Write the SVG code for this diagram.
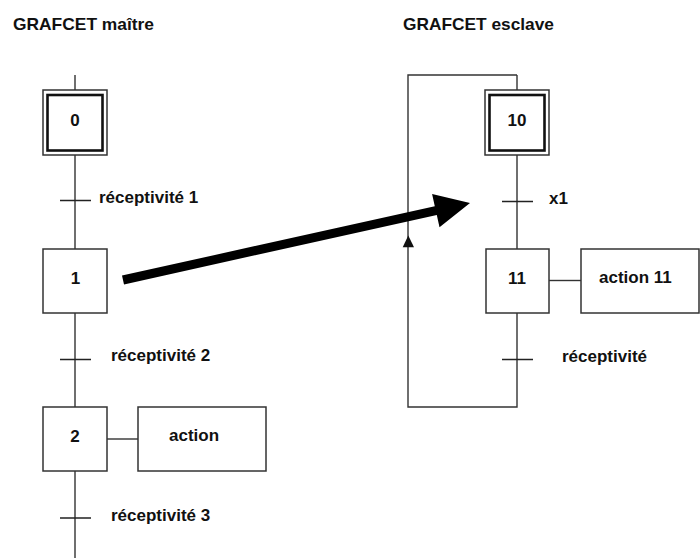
<svg xmlns="http://www.w3.org/2000/svg" width="700" height="558" viewBox="0 0 700 558">
<style>
text{font-family:"Liberation Sans",Arial,sans-serif;font-weight:bold;font-size:17px;fill:#111}
.c{text-anchor:middle}
.box{fill:#fff;stroke:#333;stroke-width:1.5}
.inner{fill:none;stroke:#111;stroke-width:2.6}
.ln{fill:none;stroke:#333;stroke-width:1.4}
.tr{stroke:#222;stroke-width:1.4}
</style>
<rect width="700" height="558" fill="#fff"/>
<text x="13" y="30" textLength="141" lengthAdjust="spacingAndGlyphs">GRAFCET maître</text>
<text x="403" y="30" textLength="151" lengthAdjust="spacingAndGlyphs">GRAFCET esclave</text>
<g id="connectors">
<path class="ln" d="M75 75V90M75 155V249M75 313V407M75 471V558"/>
<path class="ln" d="M107 439H138"/>
<path class="ln" d="M517 75V90M517 155V249M517 313V407H408V75H517"/>
<path class="ln" d="M549 280.5H581"/>
<path class="tr" d="M60 200.5H91M60 359.5H91M60 518H91M502 201.5H533M502 359.5H533"/>
<polygon points="408.3,235.5 402.7,247.3 414,247.3" fill="#111"/>
<polygon points="124,284.4 122,275.6 434.8,206.2 432.1,194 470,203 439.5,227.2 436.8,215" fill="#000"/>
</g>
<g id="step0">
<rect class="box" x="43" y="90" width="64" height="65"/>
<rect class="inner" x="47.5" y="95" width="55" height="55.5"/>
<text class="c" x="75" y="126">0</text>
</g>
<g id="t1"><text x="99" y="202.5">réceptivité 1</text></g>
<g id="step1">
<rect class="box" x="43" y="249" width="64" height="64"/>
<text class="c" x="75.5" y="283.5">1</text>
</g>
<g id="t2"><text x="111" y="361">réceptivité 2</text></g>
<g id="step2">
<rect class="box" x="43" y="407" width="64" height="64"/>
<text class="c" x="75" y="441.5">2</text>
</g>
<g id="action2">
<rect class="box" x="138" y="407" width="128" height="64"/>
<text x="169" y="441">action</text>
</g>
<g id="t3"><text x="111" y="521">réceptivité 3</text></g>
<g id="step10">
<rect class="box" x="485" y="90" width="64" height="65"/>
<rect class="inner" x="489.5" y="95" width="55" height="55.5"/>
<text class="c" x="517" y="126">10</text>
</g>
<g id="tx1"><text x="549" y="204">x1</text></g>
<g id="step11">
<rect class="box" x="486" y="249" width="63" height="64"/>
<text class="c" x="517" y="283.5">11</text>
</g>
<g id="action11">
<rect class="box" x="581" y="249" width="118" height="64"/>
<text x="599" y="282.5">action 11</text>
</g>
<g id="tr"><text x="562" y="362">réceptivité</text></g>
</svg>
